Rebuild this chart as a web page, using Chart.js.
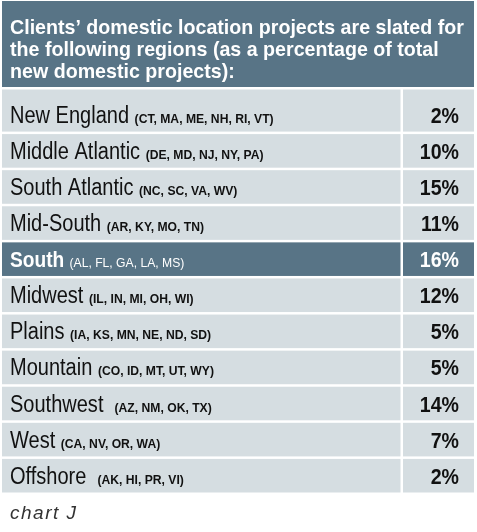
<!DOCTYPE html>
<html>
<head>
<meta charset="utf-8">
<title>chart J</title>
<script src="https://cdn.jsdelivr.net/npm/chart.js"></script>
<style>
  html, body { margin: 0; padding: 0; background: #fff; }
  #tableChart { display: block; }
</style>
</head>
<body>
<canvas id="tableChart" width="477" height="532"></canvas>
<script>
const HEADER_LINES = [
  'Clients\u2019 domestic location projects are slated for',
  'the following regions (as a percentage of total',
  'new domestic projects):'
];
const REGIONS = ['New England', 'Middle Atlantic', 'South Atlantic', 'Mid-South', 'South',
  'Midwest', 'Plains', 'Mountain', 'Southwest', 'West', 'Offshore'];
const STATES = [' (CT, MA, ME, NH, RI, VT)', ' (DE, MD, NJ, NY, PA)', ' (NC, SC, VA, WV)',
  ' (AR, KY, MO, TN)', ' (AL, FL, GA, LA, MS)', ' (IL, IN, MI, OH, WI)', ' (IA, KS, MN, NE, ND, SD)',
  ' (CO, ID, MT, UT, WY)', '  (AZ, NM, OK, TX)', ' (CA, NV, OR, WA)', '  (AK, HI, PR, VI)'];
const SHARES = [2, 10, 15, 11, 16, 12, 5, 5, 14, 7, 2];
const HIGHLIGHT = 'South';
const CAPTION = 'chart J';

// look
const SLATE = '#587486';
const CELL = '#d5dde1';
const INK = '#111111';
const FAMILY = '"Liberation Sans", Arial, sans-serif';
const VALUE_COL = 71;   // width of the percentage column
const GAP = 2.5;        // white rule between cells

// draws squeezed text (the original face is a condensed one), returns drawn width
function squeezed(ctx, text, x, y, font, sx, align) {
  ctx.save();
  ctx.font = font;
  const w = ctx.measureText(text).width * sx;
  ctx.translate(align === 'right' ? x - w : x, y);
  ctx.scale(sx, 1);
  ctx.textAlign = 'left';
  ctx.fillText(text, 0, 0);
  ctx.restore();
  return w;
}

const regionTable = {
  id: 'regionTable',
  beforeDatasetsDraw(chart) {
    const { ctx, chartArea: a, scales: { y } } = chart;
    const band = (a.bottom - a.top) / REGIONS.length;
    const splitX = a.right - VALUE_COL;

    ctx.save();
    ctx.textBaseline = 'alphabetic';
    // header box
    ctx.fillStyle = SLATE;
    ctx.fillRect(a.left, 1, a.right - a.left, 86);
    ctx.fillStyle = '#fff';
    HEADER_LINES.forEach(function (line, i) {
      squeezed(ctx, line, a.left + 8, 33.5 + i * 22, 'bold 21px ' + FAMILY, 0.935);
    });

    const values = chart.data.datasets[0].data;
    REGIONS.forEach(function (name, i) {
      const mid = y.getPixelForTick(i);
      const top = mid - band / 2;
      const h = band - GAP;
      const cellTop = i === 0 ? 87 + GAP : top;   // first row runs up to the header
      const hot = name === HIGHLIGHT;
      ctx.fillStyle = hot ? SLATE : CELL;
      ctx.fillRect(a.left, cellTop, splitX - GAP - a.left, top + h - cellTop);
      ctx.fillRect(splitX, cellTop, a.right - splitX, top + h - cellTop);

      const base = top + h / 2 + 8;
      ctx.fillStyle = hot ? '#fff' : INK;
      const nameFont = (hot ? 'bold 22px ' : '23px ') + FAMILY;
      let x = a.left + 8;
      x += squeezed(ctx, name, x, base, nameFont, 0.87);
      ctx.font = nameFont;
      const sep = STATES[i].match(/^ */)[0];
      x += ctx.measureText(sep).width * 0.87;
      squeezed(ctx, STATES[i].trim(), x, base, (hot ? '13.5px ' : 'bold 13.5px ') + FAMILY, 0.9);

      squeezed(ctx, values[i] + '%', a.right - 15, base, 'bold 22.5px ' + FAMILY, 0.87, 'right');
    });

    // caption under the table
    ctx.fillStyle = '#333';
    ctx.font = 'italic 19px ' + FAMILY;
    ctx.letterSpacing = '1.5px';
    ctx.fillText(CAPTION, a.left + 8, 519);
    ctx.restore();
  }
};

new Chart(document.getElementById('tableChart'), {
  type: 'bar',
  data: {
    labels: REGIONS,
    datasets: [{
      label: 'Share of new domestic projects (%)',
      data: SHARES,
      backgroundColor: 'rgba(0,0,0,0)',
      borderWidth: 0
    }]
  },
  options: {
    indexAxis: 'y',
    responsive: false,
    animation: false,
    layout: { padding: { top: 98, bottom: 37, left: 2, right: 3 } },
    scales: {
      x: { display: false, min: 0, max: 20 },
      y: { display: false }
    },
    plugins: {
      legend: { display: false },
      tooltip: { enabled: false },
      title: { display: false }
    }
  },
  plugins: [regionTable]
});
</script>
</body>
</html>
